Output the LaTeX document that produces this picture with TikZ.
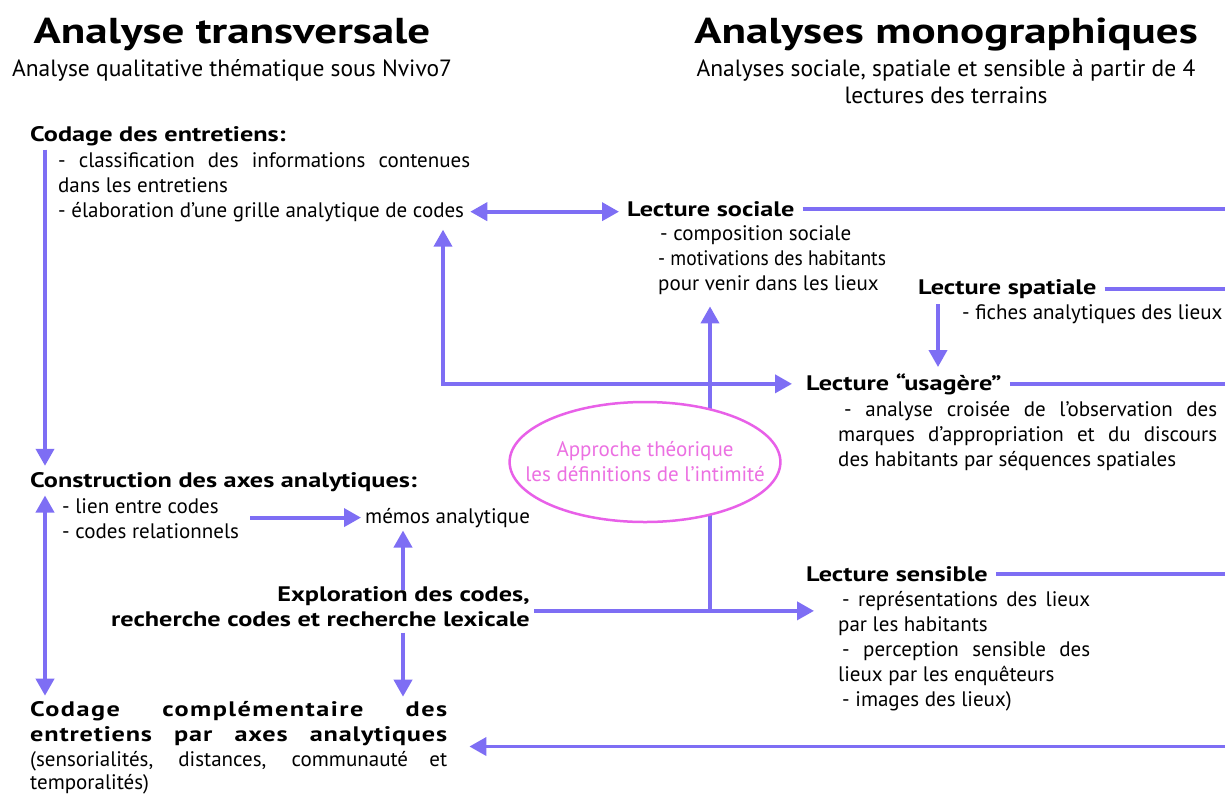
\documentclass[tikz,border=0pt]{standalone}
\usepackage{fontspec}
\setmainfont{PT Sans}
\newfontfamily\hdfont{PT Sans}[FakeStretch=1.25]
\usetikzlibrary{arrows.meta,shapes.geometric}
\definecolor{lineblue}{RGB}{126,110,244}
\definecolor{ellmag}{RGB}{232,96,232}
\definecolor{elltext}{RGB}{236,112,226}
\tikzset{
  x=1pt,y=-1pt,
  txt/.style={inner sep=0pt,anchor=base west,font=\fontsize{21}{25}\selectfont},
  hd/.style={inner sep=0pt,anchor=base west,font=\hdfont\bfseries\fontsize{21}{25}\selectfont},
  ttl/.style={inner sep=0pt,anchor=base,font=\hdfont\bfseries\fontsize{36}{40}\selectfont},
  sub/.style={inner sep=0pt,anchor=base,font=\fontsize{23.5}{27}\selectfont},
  conn/.style={draw=lineblue,line width=3.8pt},
  tip/.tip={Triangle[length=17pt,width=18pt]},
  arr/.style={conn,-tip},
  darr/.style={conn,tip-tip},
}
\begin{document}
\begin{tikzpicture}
\useasboundingbox (0,0) rectangle (1225,793);
\coordinate (edge) at (1225,0);
\coordinate (lx) at (45,0);
\coordinate (mx) at (250,0);
\coordinate (ax) at (403,0);
\coordinate (kx) at (443,0);
\coordinate (vx) at (710,0);
\coordinate (sx) at (814,0);
\coordinate (px) at (938,0);

% titles
\node[ttl] (t1) at (232,43) {Analyse transversale};
\node[sub] (s1) at (232,76) {Analyse qualitative thématique sous Nvivo7};
\node[ttl] (t2) at (946,43) {Analyses monographiques};
\node[sub] (s2a) at (946,76) {Analyses sociale, spatiale et sensible à partir de 4};
\node[sub] (s2b) at (946,103) {lectures des terrains};

% left column
\node[hd] (codage) at (30,141) {Codage des entretiens:};
\node[txt] (cl1) at (58,167) {\makebox[412pt][s]{- classification des informations contenues}};
\node[txt] (cl2) at (58,192) {dans les entretiens};
\node[txt] (elab) at (58,217) {- élaboration d’une grille analytique de codes};

\node[hd] (constr) at (30,487) {Construction des axes analytiques:};
\node[txt] (lien) at (62,513) {- lien entre codes};
\node[txt] (rel) at (62,538) {- codes relationnels};
\node[txt] (memos) at (365,523) {mémos analytique};

\node[hd,anchor=base east] (ex1) at (530,601) {Exploration des codes,};
\node[hd,anchor=base east] (ex2) at (530,626) {recherche codes et recherche lexicale};

\node[hd] (cc1) at (30,716) {\addfontfeature{LetterSpace=7}\makebox[417pt][s]{Codage complémentaire des}};
\node[hd] (cc2) at (30,741) {\addfontfeature{LetterSpace=4}\makebox[417pt][s]{entretiens par axes analytiques}};
\node[txt] (cc3) at (30,766) {\makebox[417pt][s]{(sensorialités, distances, communauté et}};
\node[txt] (cc4) at (30,789) {temporalités)};

% right column
\node[hd] (lsoc) at (627,216) {Lecture sociale};
\node[txt] (ls1) at (660,240) {- composition sociale};
\node[txt] (ls2) at (658,265) {\scalebox{0.93}[1]{- motivations des habitants}};
\node[txt] (ls3) at (658,290) {pour venir dans les lieux};

\node[hd] (lspat) at (918,294) {Lecture spatiale};
\node[txt] (lspatb) at (962,319) {- fiches analytiques des lieux};

\node[hd] (lusa) at (806,390) {Lecture “usagère”};
\node[txt] (lu1) at (838,416) {\makebox[379pt][s]{\hspace{6pt}- analyse croisée de l’observation des}};
\node[txt] (lu2) at (838,441) {\makebox[379pt][s]{marques d’appropriation et du discours}};
\node[txt] (lu3) at (838,466) {des habitants par séquences spatiales};

\node[hd] (lsens) at (806,581) {Lecture sensible};
\node[txt] (lr1) at (838,606) {\makebox[252pt][s]{\hspace{4pt}- représentations des lieux}};
\node[txt] (lr2) at (838,631) {par les habitants};
\node[txt] (lr3) at (838,656) {\makebox[252pt][s]{\hspace{4pt}- perception sensible des}};
\node[txt] (lr4) at (838,681) {lieux par les enquêteurs};
\node[txt] (lr5) at (838,706) {\hspace{4pt}- images des lieux)};

% connectors
\draw[arr] ([yshift=-4pt]codage.south -| lx) -- ([yshift=6pt]constr.north -| lx);
\draw[darr] ([yshift=-4pt]constr.south -| lx) -- ([yshift=5pt]cc1.north -| lx);
\draw[darr] ([xshift=6pt]elab.east) -- ([xshift=-8pt]lsoc.west |- elab.east);
\draw[darr] ([yshift=-8pt]elab.south -| kx) -- (kx |- lusa.west) -- ([xshift=-14pt]lusa.west);
\draw[arr] (mx |- memos.west) -- ([xshift=-4pt]memos.west);
\draw[arr] ([yshift=-4pt]ex1.north -| ax) -- ([yshift=-3pt]memos.south -| ax);
\draw[arr] ([yshift=-6pt]ex2.south -| ax) -- ([yshift=4pt]cc1.north -| ax);
\draw[conn] ([xshift=4pt]ex2.north east) -- (ex2.north east -| vx);
\draw[arr] (ex2.north east -| vx) -- ([yshift=-12pt]ls3.south -| vx);
\draw[arr] (ex2.north east -| vx) -- (ex2.north east -| sx);
\draw[arr] ([yshift=-6pt]lspat.south -| px) -- ([yshift=6pt]lusa.north -| px);
\draw[conn] ([xshift=8pt]lsoc.east) -- (lsoc.east -| edge);
\draw[conn] ([xshift=8pt]lspat.east) -- (lspat.east -| edge);
\draw[conn] ([xshift=8pt]lusa.east) -- (lusa.east -| edge);
\draw[conn] ([xshift=8pt]lsens.east) -- (lsens.east -| edge);
\draw[arr] ([yshift=-1pt]cc2.south -| edge) -- ([xshift=22pt,yshift=-1pt]cc2.south east);

% ellipse
\node[ellipse,draw=ellmag,line width=2.5pt,fill=white,minimum width=266pt,minimum height=120pt,
      inner xsep=-24pt,inner ysep=0pt,text=elltext,font=\fontsize{21}{25}\selectfont,align=center] (ell) at (645,462)
      {Approche théorique\\les définitions de l’intimité};
\end{tikzpicture}
\end{document}
